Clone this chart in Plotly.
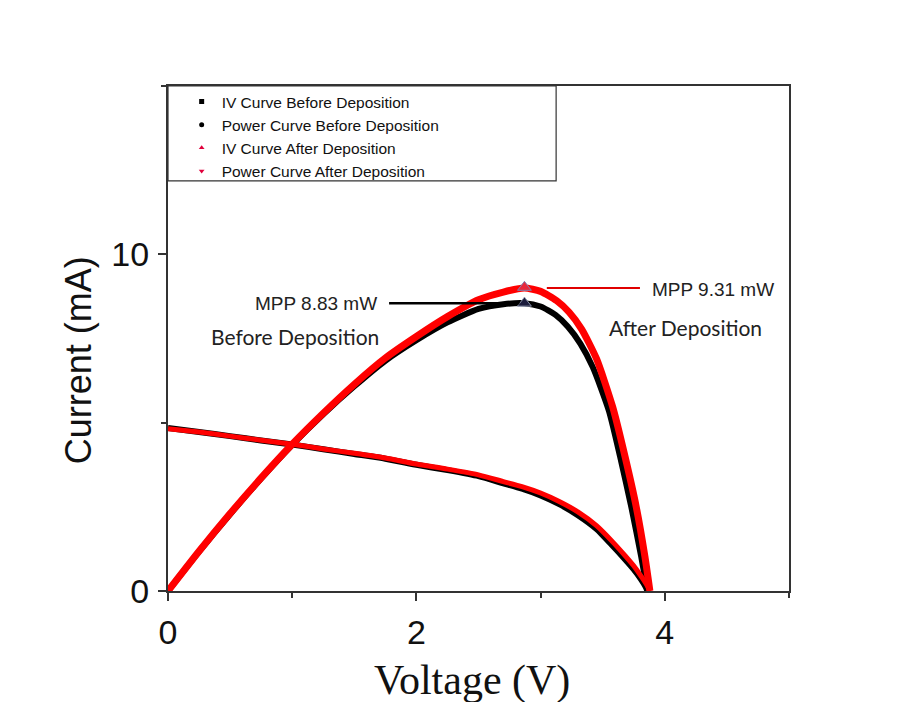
import plotly.graph_objects as go

# ---- data ----
# IV curve before deposition (black)
v_iv_before = [0, 0.25, 0.5, 0.75, 1.0, 1.25, 1.5, 1.75, 2.0, 2.25, 2.5, 2.7, 2.85, 3.0, 3.15, 3.3, 3.45, 3.57, 3.67, 3.75, 3.81, 3.845, 3.86]
i_iv_before = [4.84, 4.72, 4.60, 4.47, 4.35, 4.21, 4.07, 3.93, 3.75, 3.59, 3.41, 3.20, 3.04, 2.84, 2.58, 2.25, 1.84, 1.38, 0.98, 0.64, 0.34, 0.13, 0.0]

# IV curve after deposition (red)
v_iv_after = [0, 0.25, 0.5, 0.75, 1.0, 1.25, 1.5, 1.75, 2.0, 2.25, 2.5, 2.7, 2.85, 3.0, 3.15, 3.3, 3.45, 3.58, 3.68, 3.76, 3.82, 3.86, 3.88]
i_iv_after = [4.82, 4.72, 4.60, 4.48, 4.36, 4.22, 4.09, 3.95, 3.77, 3.62, 3.45, 3.25, 3.10, 2.91, 2.66, 2.35, 1.94, 1.46, 1.05, 0.70, 0.38, 0.15, 0.0]

# Power curve before deposition (black)
v_p_before = [0, 0.25, 0.5, 0.75, 1.0, 1.25, 1.5, 1.75, 2.0, 2.25, 2.5, 2.7, 2.87, 3.0, 3.12, 3.22, 3.32, 3.42, 3.55, 3.64, 3.73, 3.81, 3.86]
p_before = [0, 1.17, 2.28, 3.34, 4.34, 5.25, 6.08, 6.84, 7.45, 7.98, 8.38, 8.52, 8.55, 8.45, 8.20, 7.85, 7.35, 6.65, 5.35, 3.99, 2.50, 1.02, 0.0]

# Power curve after deposition (red)
v_p_after = [0, 0.25, 0.5, 0.75, 1.0, 1.25, 1.5, 1.75, 2.0, 2.25, 2.5, 2.7, 2.87, 3.0, 3.13, 3.23, 3.33, 3.45, 3.58, 3.68, 3.77, 3.84, 3.88]
p_after = [0, 1.18, 2.30, 3.36, 4.36, 5.28, 6.14, 6.92, 7.56, 8.15, 8.65, 8.88, 9.00, 8.90, 8.62, 8.28, 7.78, 6.90, 5.47, 3.99, 2.50, 1.02, 0.0]

# maximum power points (marker positions as drawn)
mpp_v = [2.87, 2.87]
mpp_p = [8.55, 9.02]
mpp_labels = ["MPP 8.83 mW", "MPP 9.31 mW"]

legend_names = ["IV Curve Before Deposition", "Power Curve Before Deposition",
                "IV Curve After Deposition", "Power Curve After Deposition"]

x_ticks = [0, 2, 4]
y_ticks = [0, 10]

BLACK = "#000000"
RED = "#ff0000"

fig = go.Figure()

# data bands
fig.add_trace(go.Scatter(x=v_iv_before, y=i_iv_before, mode="lines",
                         line=dict(color=BLACK, width=6, shape="spline", smoothing=0.6),
                         showlegend=False, hoverinfo="skip"))
fig.add_trace(go.Scatter(x=v_p_before, y=p_before, mode="lines",
                         line=dict(color=BLACK, width=6, shape="spline", smoothing=0.6),
                         showlegend=False, hoverinfo="skip"))
fig.add_trace(go.Scatter(x=v_iv_after, y=i_iv_after, mode="lines",
                         line=dict(color=RED, width=5, shape="spline", smoothing=0.6),
                         showlegend=False, hoverinfo="skip"))
fig.add_trace(go.Scatter(x=v_p_after, y=p_after, mode="lines",
                         line=dict(color=RED, width=7, shape="spline", smoothing=0.6),
                         showlegend=False, hoverinfo="skip"))

# MPP markers
fig.add_trace(go.Scatter(x=[mpp_v[0]], y=[mpp_p[0]], mode="markers",
                         marker=dict(symbol="triangle-up", size=12, color="#1c1c3c",
                                     line=dict(color="#8890a8", width=1)),
                         showlegend=False, hoverinfo="skip"))
fig.add_trace(go.Scatter(x=[mpp_v[1]], y=[mpp_p[1]], mode="markers",
                         marker=dict(symbol="triangle-up", size=12, color="#e8283c",
                                     line=dict(color="#8080b0", width=1)),
                         showlegend=False, hoverinfo="skip"))

# legend entries (markers only)
leg_symbols = ["square", "circle", "triangle-up", "triangle-down"]
leg_colors = [BLACK, BLACK, "#e0003c", "#e0003c"]
for name, sym, col in zip(legend_names, leg_symbols, leg_colors):
    fig.add_trace(go.Scatter(x=[None], y=[None], mode="markers", name=name,
                             marker=dict(symbol=sym, size=5, color=col)))

# MPP leader lines
fig.add_shape(type="line", xref="x", yref="y", x0=1.78, x1=2.83, y0=8.55, y1=8.55,
              line=dict(color=BLACK, width=2.5))
fig.add_shape(type="line", xref="x", yref="y", x0=3.05, x1=3.80, y0=9.0, y1=9.0,
              line=dict(color="#e00000", width=2))

# legend frame
fig.add_shape(type="rect", xref="paper", yref="paper", x0=0, x1=0.625, y0=0.812, y1=1.0,
              line=dict(color="#333333", width=1.2), fillcolor="rgba(0,0,0,0)", layer="above")

annotations = [
    dict(x=1.70, y=8.55, xref="x", yref="y", text=mpp_labels[0], showarrow=False,
         xanchor="right", yanchor="middle", font=dict(family="Arial, Liberation Sans", size=19, color="#222")),
    dict(x=3.88, y=8.97, xref="x", yref="y", text=mpp_labels[1], showarrow=False,
         xanchor="left", yanchor="middle", font=dict(family="Arial, Liberation Sans", size=19, color="#222")),
    dict(x=1.02, y=7.57, xref="x", yref="y", text="Before Deposition", showarrow=False,
         xanchor="center", yanchor="middle", font=dict(family="Lato", size=21, color="#222")),
    dict(x=4.17, y=7.84, xref="x", yref="y", text="After Deposition", showarrow=False,
         xanchor="center", yanchor="middle", font=dict(family="Lato", size=21, color="#222")),
    dict(x=-0.145, y=0.457, xref="paper", yref="paper", text="Current (mA)", showarrow=False,
         textangle=-90, xanchor="center", yanchor="middle",
         font=dict(family="Arial, Liberation Sans", size=36, color="#111")),
    dict(x=0.49, y=-0.177, xref="paper", yref="paper", text="Voltage (V)", showarrow=False,
         xanchor="center", yanchor="middle",
         font=dict(family="Liberation Serif, Times New Roman", size=42, color="#111")),
]

axis_common = dict(showgrid=False, zeroline=False, showline=True, linecolor="#333333",
                   linewidth=2, mirror=True, ticks="outside", ticklen=8, tickwidth=1.5,
                   tickcolor="#333333",
                   tickfont=dict(family="Arial, Liberation Sans", size=34, color="#111"))

fig.update_xaxes(range=[0, 5], tickvals=x_ticks, ticktext=[str(t) for t in x_ticks],
                 minor=dict(tickvals=[1, 3, 5], ticklen=5, tickwidth=1.5, tickcolor="#333333", ticks="outside"),
                 ticklabelstandoff=2, **axis_common)
fig.update_yaxes(range=[0, 15], tickvals=y_ticks, ticktext=[str(t) for t in y_ticks],
                 minor=dict(tickvals=[5, 15], ticklen=5, tickwidth=1.5, tickcolor="#333333", ticks="outside"),
                 ticklabelstandoff=2, **axis_common)

fig.update_layout(
    width=891, height=694,
    margin=dict(l=160, r=110, t=78, b=111),
    paper_bgcolor="white", plot_bgcolor="white",
    showlegend=True,
    legend=dict(x=0.022, y=1.002, xanchor="left", yanchor="top", bgcolor="rgba(0,0,0,0)",
                borderwidth=0, font=dict(family="Arial, Liberation Sans", size=15.5, color="#111"),
                tracegroupgap=0, itemwidth=30),
    annotations=annotations,
)

fig.write_html("out.html")
